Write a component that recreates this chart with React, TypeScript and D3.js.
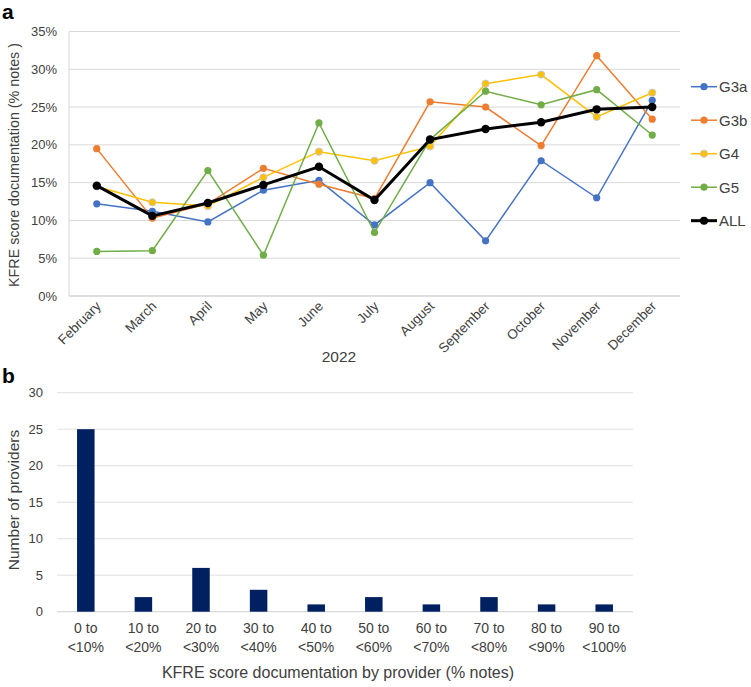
import React from "react";
import * as d3 from "d3";

const months = ["February", "March", "April", "May", "June", "July", "August", "September", "October", "November", "December"];
const seriesNames = ["G3a", "G3b", "G4", "G5", "ALL"];
const g3a = [12.2, 11.2, 9.8, 14.0, 15.3, 9.4, 15.0, 7.3, 17.9, 13.0, 25.9];
const g3b = [19.5, 10.3, 12.2, 16.9, 14.8, 12.9, 25.7, 25.0, 19.9, 31.8, 23.4];
const g4 = [14.5, 12.4, 11.9, 15.7, 19.1, 17.9, 19.8, 28.1, 29.3, 23.7, 26.9];
const g5 = [5.9, 6.0, 16.6, 5.4, 22.9, 8.4, 20.7, 27.1, 25.3, 27.3, 21.3];
const all = [14.6, 10.6, 12.3, 14.7, 17.1, 12.7, 20.7, 22.1, 23.0, 24.7, 25.0];
const seriesColors = ["#4472C4", "#ED7D31", "#FFC000", "#70AD47", "#000000"];
const yTicksA = [0, 5, 10, 15, 20, 25, 30, 35];

const bins = ["0 to|<10%", "10 to|<20%", "20 to|<30%", "30 to|<40%", "40 to|<50%", "50 to|<60%", "60 to|<70%", "70 to|<80%", "80 to|<90%", "90 to|<100%"];
const providers = [25, 2, 6, 3, 1, 2, 1, 2, 1, 1];
const yTicksB = [0, 5, 10, 15, 20, 25, 30];

const FONT = "'Liberation Sans', Arial, sans-serif";
const TXT = "#404040";

export default function App() {
  const allSeries = [g3a, g3b, g4, g5, all];
  // Chart a
  const xA = d3.scaleBand<string>().domain(months).range([69, 680]);
  const yA = d3.scaleLinear().domain([0, 35]).range([296, 31.5]);
  const line = d3
    .line<number>()
    .x((_, i) => (xA(months[i]) as number) + xA.bandwidth() / 2)
    .y((d) => yA(d));

  // Chart b
  const xB = d3.scaleBand<string>().domain(bins).range([57, 633]);
  const yB = d3.scaleLinear().domain([0, 30]).range([611.7, 392.7]);
  const barW = 17.5;

  return (
    <svg width={751} height={687} style={{ position: "absolute", left: 0, top: 0, fontFamily: FONT }}>
      <rect width={751} height={687} fill="#fff" />
      {/* Panel a */}
      <text x={2} y={19} fontSize={21} fontWeight="bold" fill="#000">a</text>
      {yTicksA.map((t) => (
        <g key={t}>
          {t > 0 && <line x1={69} x2={680} y1={yA(t)} y2={yA(t)} stroke="#d9d9d9" strokeWidth={1} />}
          <text x={57} y={yA(t) + 4.5} fontSize={13} textAnchor="end" fill={TXT}>{t}%</text>
        </g>
      ))}
      <line x1={69} x2={69} y1={yA(35)} y2={yA(0)} stroke="#d9d9d9" strokeWidth={1} />
      <line x1={69} x2={680} y1={yA(0)} y2={yA(0)} stroke="#bfbfbf" strokeWidth={1} />
      {months.map((m) => {
        const cx = (xA(m) as number) + xA.bandwidth() / 2;
        return (
          <text
            key={m}
            transform={`translate(${cx + 5},${yA(0) + 11}) rotate(-45)`}
            fontSize={13.5}
            textAnchor="end"
            fill={TXT}
          >
            {m}
          </text>
        );
      })}
      <text x={339} y={362} fontSize={15.5} textAnchor="middle" fill={TXT}>2022</text>
      <text transform={`translate(19,165) rotate(-90)`} fontSize={14.3} textAnchor="middle" fill={TXT}>
        KFRE score documentation (% notes )
      </text>
      {allSeries.map((s, si) => (
        <g key={seriesNames[si]}>
          <path d={line(s) as string} fill="none" stroke={seriesColors[si]} strokeWidth={si === 4 ? 3 : 1.5} />
          {s.map((v, i) => (
            <circle
              key={i}
              cx={(xA(months[i]) as number) + xA.bandwidth() / 2}
              cy={yA(v)}
              r={si === 4 ? 4.2 : 3.6}
              fill={seriesColors[si]}
              stroke={si === 2 ? "#c8c8c8" : "none"}
              strokeWidth={1}
            />
          ))}
        </g>
      ))}
      {seriesNames.map((n, i) => {
        const ly = 86.7 + i * 33.5;
        return (
          <g key={n}>
            <line x1={691} x2={717} y1={ly} y2={ly} stroke={seriesColors[i]} strokeWidth={i === 4 ? 3 : 1.5} />
            <circle cx={704} cy={ly} r={i === 4 ? 4 : 3.6} fill={seriesColors[i]} stroke={i === 2 ? "#c8c8c8" : "none"} />
            <text x={719} y={ly + 5.5} fontSize={15} fill={TXT}>{n}</text>
          </g>
        );
      })}

      {/* Panel b */}
      <text x={2} y={383} fontSize={21} fontWeight="bold" fill="#000">b</text>
      {yTicksB.map((t) => (
        <g key={t}>
          <line x1={57} x2={633} y1={yB(t)} y2={yB(t)} stroke={t === 0 ? "#d0d0d0" : "#e0e0e0"} strokeWidth={1} />
          <text x={43} y={yB(t) + 4.5} fontSize={13} textAnchor="end" fill={TXT}>{t}</text>
        </g>
      ))}
      {providers.map((v, i) => {
        const cx = (xB(bins[i]) as number) + xB.bandwidth() / 2;
        return <rect key={i} x={cx - barW / 2} y={yB(v)} width={barW} height={yB(0) - yB(v)} fill="#002060" />;
      })}
      {bins.map((b) => {
        const cx = (xB(b) as number) + xB.bandwidth() / 2;
        const [l1, l2] = b.split("|");
        return (
          <g key={b}>
            <text x={cx} y={633} fontSize={14} textAnchor="middle" fill={TXT}>{l1}</text>
            <text x={cx} y={651.5} fontSize={14} textAnchor="middle" fill={TXT}>{l2}</text>
          </g>
        );
      })}
      <text x={338} y={678} fontSize={16} textAnchor="middle" fill={TXT}>
        KFRE score documentation by provider (% notes)
      </text>
      <text transform={`translate(19,500) rotate(-90)`} fontSize={15.5} textAnchor="middle" fill={TXT}>
        Number of providers
      </text>
    </svg>
  );
}
